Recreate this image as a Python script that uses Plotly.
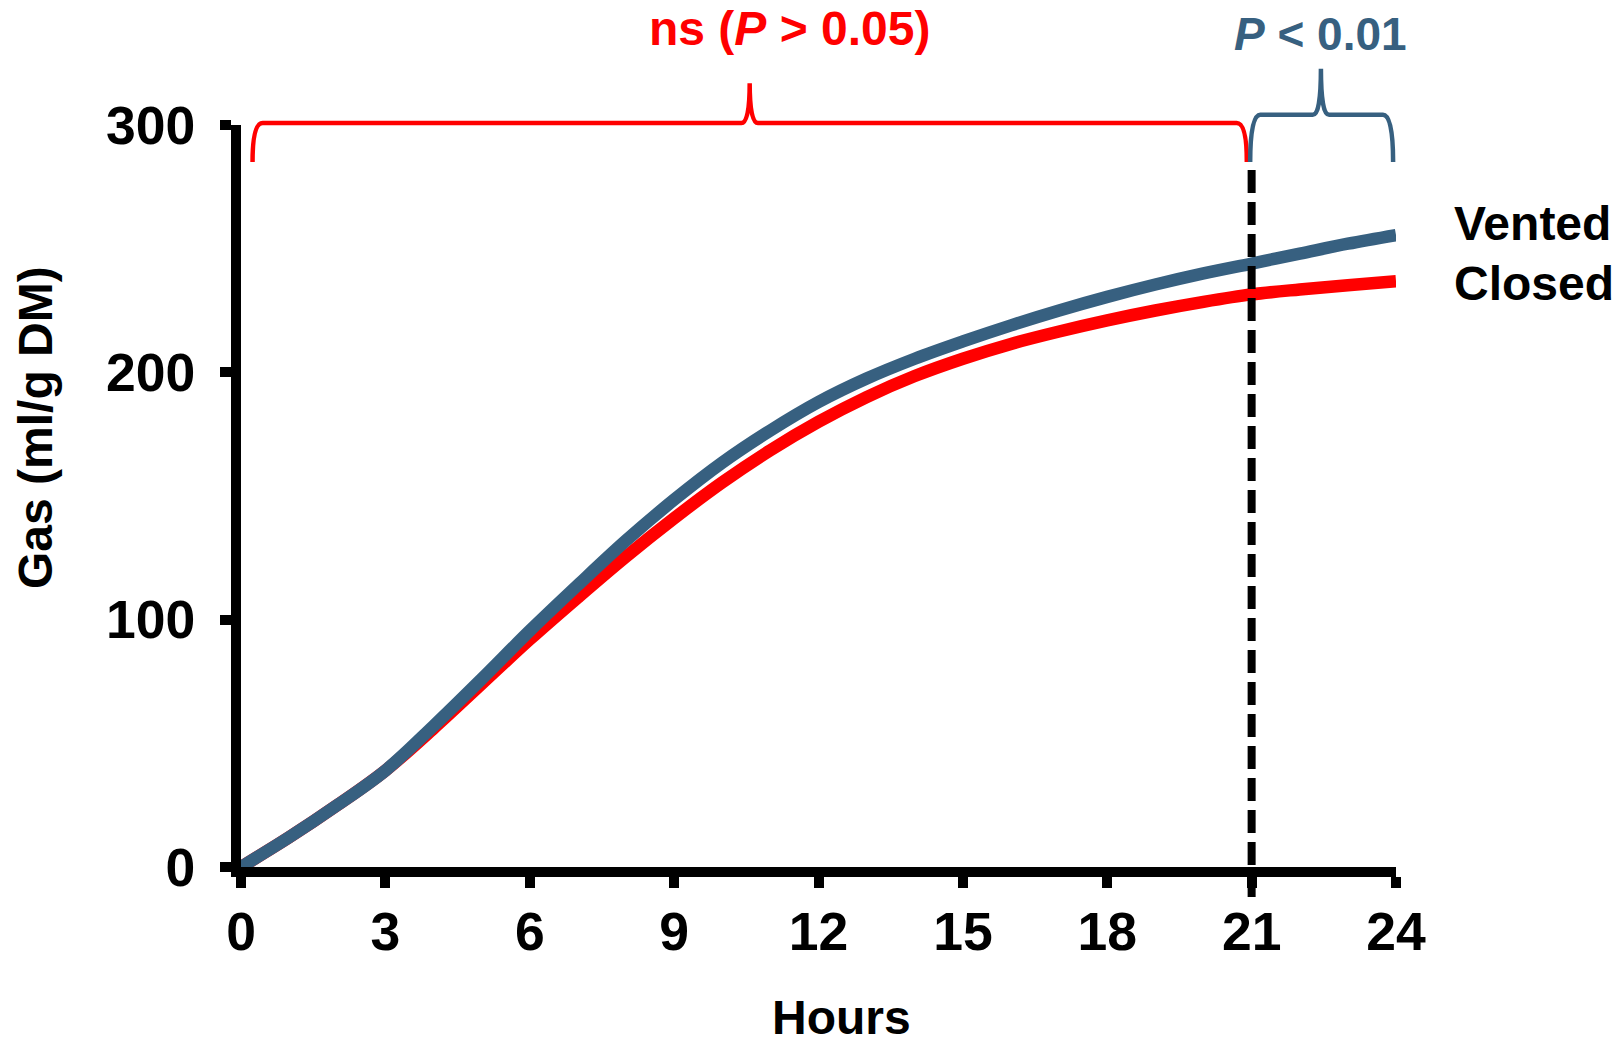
import plotly.graph_objects as go

# ---------------- data ----------------
hours = list(range(0, 25))
vented = [0, 12, 25, 39, 57, 76, 95.5, 114, 132, 148.5, 163.5, 176.5, 188, 197.5,
          205.5, 212.5, 219, 225, 230.5, 235.5, 240, 244, 248, 252, 255.5]
closed = [0, 12, 25, 39, 56, 74, 92, 109, 125.5, 141, 155.5, 168.5, 180, 190,
          198.5, 205.5, 211.5, 216.5, 221, 225, 228.5, 231.5, 233.5, 235.2, 236.8]
x_ticks = [0, 3, 6, 9, 12, 15, 18, 21, 24]
y_ticks = [0, 100, 200, 300]
X_RANGE = [0, 24]
Y_RANGE = [0, 300]

# brace / marker positions (hours, gas units)
ns_brace = dict(x0=0.24, x1=20.90, xm=10.57, yb=285, ybar=300.8, ytip=316.9)
p_brace = dict(x0=20.97, x1=23.94, xm=22.44, yb=285, ybar=304.1, ytip=322.7)
cut_hour = 21
cut_span = (-12.1, 282.2)

RED = "#FF0000"
BLUE = "#376080"
FONT = "Liberation Sans, Arial, sans-serif"


def xp(h):
    return (h - X_RANGE[0]) / (X_RANGE[1] - X_RANGE[0])


def yp(v):
    return (v - Y_RANGE[0]) / (Y_RANGE[1] - Y_RANGE[0])


def brace_path(b, dx_end=0.21, dx_tip=0.17):
    x0, x1, xm = b["x0"], b["x1"], b["xm"]
    yb, ybar, ytip = b["yb"], b["ybar"], b["ytip"]
    pts = [
        ("M", [(x0, yb)]),
        ("Q", [(x0, ybar), (x0 + dx_end, ybar)]),
        ("L", [(xm - dx_tip, ybar)]),
        ("Q", [(xm, ybar), (xm, ytip)]),
        ("Q", [(xm, ybar), (xm + dx_tip, ybar)]),
        ("L", [(x1 - dx_end, ybar)]),
        ("Q", [(x1, ybar), (x1, yb)]),
    ]
    s = ""
    for cmd, ps in pts:
        s += cmd + " ".join(f"{xp(a):.5f},{yp(c):.5f}" for a, c in ps) + " "
    return s.strip()


fig = go.Figure()
fig.add_trace(go.Scatter(x=hours, y=closed, mode="lines", name="Closed",
                         line=dict(color=RED, width=12.5, shape="spline")))
fig.add_trace(go.Scatter(x=hours, y=vented, mode="lines", name="Vented",
                         line=dict(color=BLUE, width=12.5, shape="spline")))

axis_common = dict(
    showline=True, linewidth=10, linecolor="black",
    ticks="outside", ticklen=11, tickwidth=10, tickcolor="black",
    showgrid=False, zeroline=False,
    tickfont=dict(family=FONT, size=53.5, color="black", weight="bold"),
)

fig.update_layout(
    width=1620, height=1045,
    margin=dict(l=241, r=224, t=125, b=178),
    paper_bgcolor="white", plot_bgcolor="white",
    showlegend=False,
    xaxis=dict(range=X_RANGE, tickvals=x_ticks, ticklabelstandoff=-2, **axis_common),
    yaxis=dict(range=Y_RANGE, tickvals=y_ticks, ticklabelstandoff=14, **axis_common),
)

shapes = [
    dict(type="path", xref="paper", yref="paper", path=brace_path(ns_brace),
         line=dict(color=RED, width=4.5), layer="above"),
    dict(type="path", xref="paper", yref="paper", path=brace_path(p_brace),
         line=dict(color=BLUE, width=4.5), layer="above"),
    dict(type="line", xref="paper", yref="paper",
         x0=xp(cut_hour), x1=xp(cut_hour), y0=yp(cut_span[0]), y1=yp(cut_span[1]),
         line=dict(color="black", width=8, dash="23px,9px"), layer="above"),
]
fig.update_layout(shapes=shapes)

ann_font = dict(family=FONT, size=48, color="black")
annotations = [
    dict(text="<b>Hours</b>", x=0.5195, y=-0.2035, font=ann_font),
    dict(text="<b>Gas (ml/g DM)</b>", x=-0.1775, y=0.593, textangle=-90, font=ann_font),
    dict(text="<b>Vented</b>", x=1.0485, y=0.8673, xanchor="left", font=ann_font),
    dict(text="<b>Closed</b>", x=1.0485, y=0.7864, xanchor="left", font=ann_font),
    dict(text="<b>ns (<i>P</i> &gt; 0.05)</b>", x=0.4753, y=1.1307,
         font=dict(family=FONT, size=48, color=RED)),
    dict(text="<b><i>P</i> &lt; 0.01</b>", x=0.9346, y=1.1233,
         font=dict(family=FONT, size=46, color=BLUE)),
]
for a in annotations:
    a.setdefault("xanchor", "center")
    a.update(xref="paper", yref="paper", yanchor="middle", showarrow=False)
fig.update_layout(annotations=annotations)

fig.write_html("out.html", config={"displayModeBar": False},
               post_script="document.body.style.margin='0';")
